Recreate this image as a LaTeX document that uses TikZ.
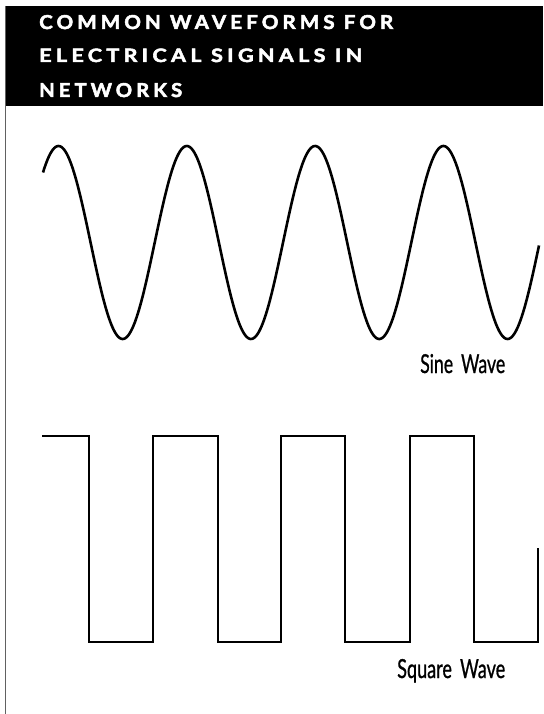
\documentclass[tikz,border=0pt]{standalone}
\usepackage{fontspec}
\usepackage{graphicx}
\setmainfont{Lato}
\newfontfamily\headfont{Lato}[LetterSpace=20, BoldFeatures={FakeBold=2.6}]
\newfontfamily\labfont{Lato}[FakeBold=1.0]
\begin{document}
\begin{tikzpicture}[x=1pt,y=1pt,
  headtext/.style={anchor=base west,inner sep=0pt,text=white,font=\headfont\bfseries},
  labtext/.style={anchor=base west,inner sep=0pt,font=\labfont},
  wave/.style={line width=2.6pt,line join=round,line cap=butt},
  sq/.style={line width=2.2pt,line join=miter}]
\useasboundingbox (0,0) rectangle (543,-714);
\fill[white] (0,0) rectangle (543,-714);
% header band
\fill[black] (6,-6) rectangle (543,-106);
% left rule
\draw[line width=1.8pt,color=black!62] (5.5,-6) -- (5.5,-714);
% header text
\node[headtext] (h1) at (39,-29) {\resizebox{354pt}{14pt}{COMMON WAVEFORMS FOR}};
\node[headtext] (h2) at (39,-62) {\resizebox{323pt}{13.5pt}{ELECTRICAL SIGNALS IN}};
\node[headtext] (h3) at (39,-97) {\resizebox{143pt}{14pt}{NETWORKS}};
% sine wave
\draw[wave] plot[domain=43:539,samples=400,smooth] (\x,{-242.5+96.5*cos(2.8059*(\x-58.5))});
\node[labtext] (sl) at (420,-373) {\resizebox{85pt}{19pt}{Sine\hspace{0.45em}Wave}};
% square wave
\draw[sq] (42,-436) -- (89,-436) -- (89,-642) -- (153,-642) -- (153,-436)
  -- (218,-436) -- (218,-642) -- (281,-642) -- (281,-436) -- (345,-436)
  -- (345,-642) -- (410,-642) -- (410,-436) -- (474,-436) -- (474,-642)
  -- (538,-642) -- (538,-548);
\node[labtext] (ql) at (397,-678) {\resizebox{108pt}{19pt}{Square\hspace{0.45em}Wave}};
\end{tikzpicture}
\end{document}
